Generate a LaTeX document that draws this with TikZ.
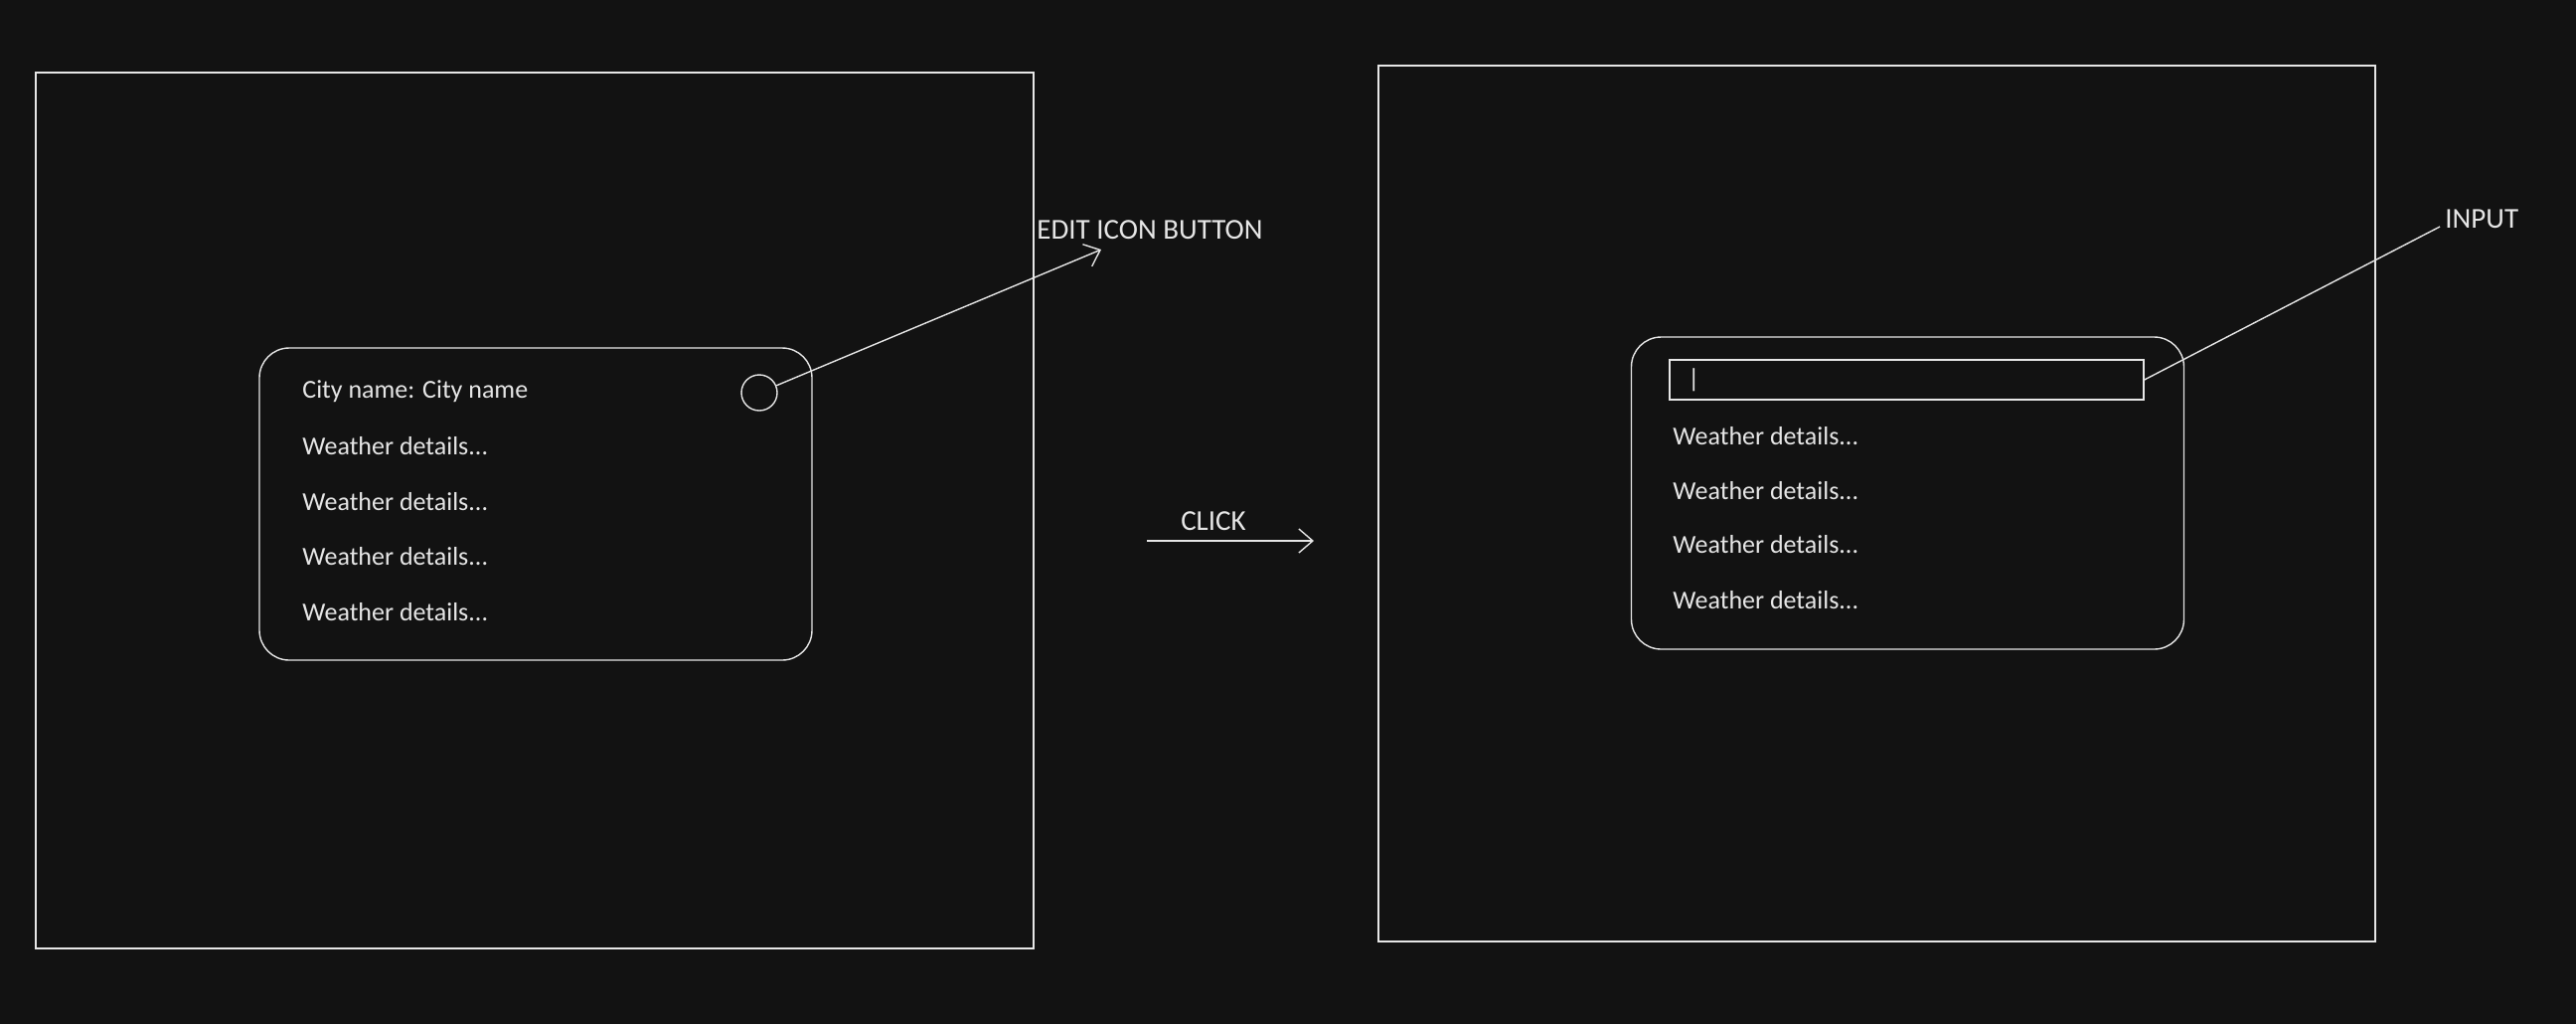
\documentclass[tikz,border=0pt]{standalone}
\usepackage{fontspec}
\setmainfont{Carlito}
\usetikzlibrary{arrows.meta}
\definecolor{bg}{HTML}{121212}
\definecolor{ink}{HTML}{E6E6E6}
\begin{document}
\begin{tikzpicture}[x=0.5pt,y=-0.5pt,
  line/.style={draw=ink, line width=0.7pt},
  frame/.style={line, rectangle, inner sep=0pt, minimum width=#1},
  card/.style={line, rectangle, rounded corners=15pt, inner sep=0pt, minimum width=278pt, minimum height=157pt},
  lbl/.style={text=ink, anchor=west, inner sep=0pt, font=\fontsize{13}{15}\selectfont},
  note/.style={text=ink, inner sep=0pt, font=\fontsize{14.5}{17}\selectfont},
  arr/.style={line, -{Straight Barb[length=7pt,width=12pt]}}
]
\fill[bg] (0,0) rectangle (2592,1030);
\useasboundingbox (0,0) rectangle (2592,1030);

% left screen
\node[frame=502pt, minimum height=440.5pt] (leftframe) at (538,513.5) {};
\node[card] (leftcard) at (539,507) {};
\node[line, circle, inner sep=0pt, minimum size=18pt] (editbtn) at (764,395) {};
\node[lbl] (city) at (304,394) {City name: City name};
\node[lbl] (lw1) at (304,449) {Weather details...};
\node[lbl] (lw2) at (304,505) {Weather details...};
\node[lbl] (lw3) at (304,560) {Weather details...};
\node[lbl] (lw4) at (304,616) {Weather details...};

\coordinate (editend) at (1108,251);
\draw[arr] (editbtn) -- (editend);
\node[note, anchor=west] (editlbl) at (1043,231) {EDIT ICON BUTTON};

% click arrow
\coordinate (clickA) at (1154,544);
\coordinate (clickB) at (1322,544);
\draw[arr] (clickA) -- (clickB);
\node[note] (clicklbl) at (1221,524) {CLICK};

% right screen
\node[frame=501.5pt, minimum height=440.5pt] (rightframe) at (1888.5,506.5) {};
\node[card] (rightcard) at (1919.5,496) {};
\node[line, rectangle, inner sep=0pt, minimum width=238.5pt, minimum height=20pt] (input) at (1918.5,382) {};
\node[lbl] (cursor) at (1698,382) {|};
\node[lbl] (rw1) at (1683,439) {Weather details...};
\node[lbl] (rw2) at (1683,494) {Weather details...};
\node[lbl] (rw3) at (1683,548) {Weather details...};
\node[lbl] (rw4) at (1683,604) {Weather details...};

\coordinate (inputend) at (2455,228);
\draw[line] (input.east) -- (inputend);
\node[note, anchor=west] (inputlbl) at (2460,220) {INPUT};
\end{tikzpicture}
\end{document}
